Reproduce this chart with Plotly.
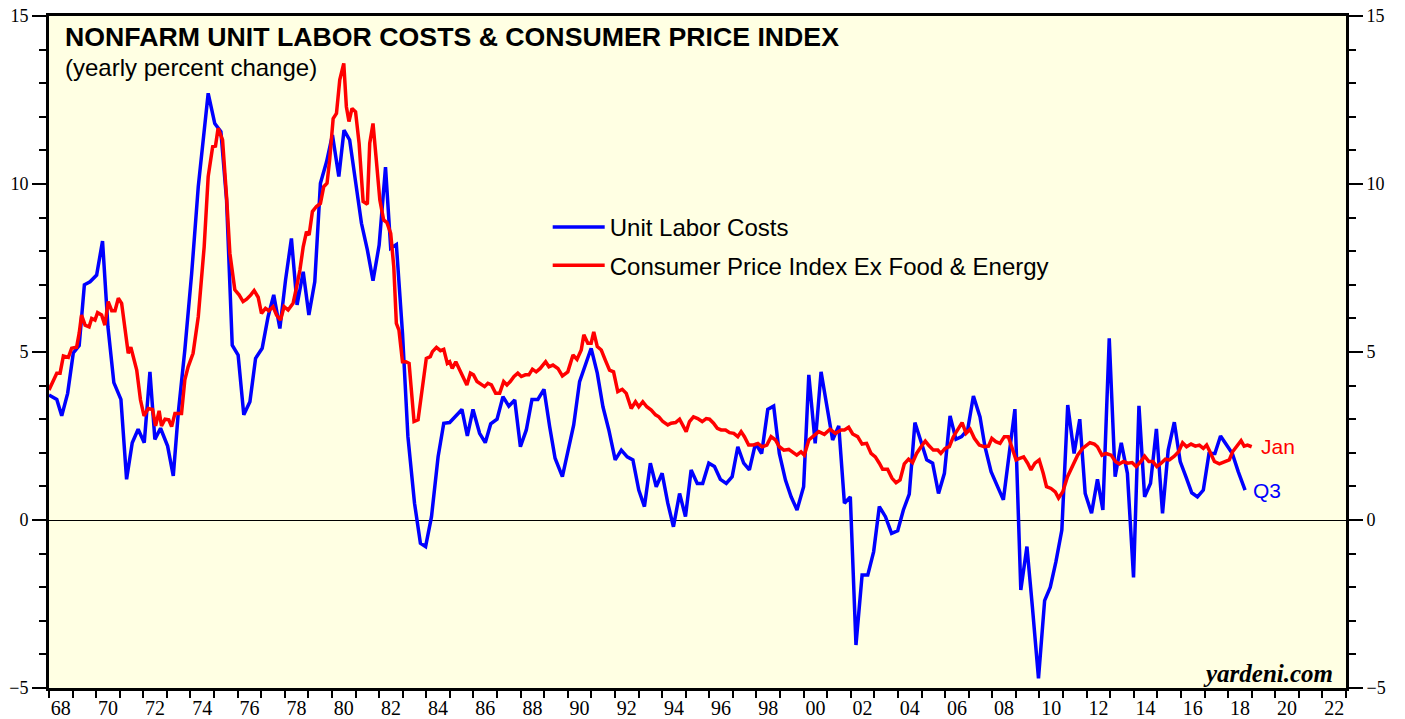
import plotly.graph_objects as go

# ---------------- data ----------------
ulc_years = [1968.0, 1968.33, 1968.54, 1968.79, 1969.03, 1969.28, 1969.5, 1969.74, 1970.02, 1970.27,
             1970.5, 1970.75, 1971.05, 1971.29, 1971.53, 1971.78, 1972.04, 1972.28, 1972.49, 1972.73,
             1973.03, 1973.27, 1973.48, 1973.76, 1974.05, 1974.33, 1974.75, 1975.03, 1975.29, 1975.53,
             1975.77, 1976.02, 1976.26, 1976.52, 1976.76, 1977.04, 1977.29, 1977.53, 1977.79, 1978.03,
             1978.28, 1978.52, 1978.78, 1979.02, 1979.27, 1979.51, 1979.77, 1980.02, 1980.29, 1980.51,
             1980.75, 1981.0, 1981.25, 1981.5, 1981.74, 1982.0, 1982.27, 1982.49, 1982.73, 1982.99,
             1983.22, 1983.5, 1983.75, 1983.97, 1984.22, 1984.5, 1984.74, 1984.99, 1985.25, 1985.51,
             1985.74, 1985.98, 1986.26, 1986.5, 1986.73, 1987.0, 1987.25, 1987.5, 1987.75, 1987.99,
             1988.24, 1988.48, 1988.73, 1988.99, 1989.23, 1989.46, 1989.77, 1990.0, 1990.25, 1990.5,
             1990.75, 1990.99, 1991.25, 1991.49, 1991.74, 1992.01, 1992.27, 1992.52, 1992.76, 1993.01,
             1993.25, 1993.5, 1993.75, 1994.0, 1994.24, 1994.48, 1994.74, 1994.99, 1995.23, 1995.49,
             1995.72, 1995.98, 1996.22, 1996.47, 1996.72, 1996.97, 1997.21, 1997.46, 1997.7, 1997.96,
             1998.22, 1998.48, 1998.73, 1998.97, 1999.23, 1999.47, 1999.72, 2000.0, 2000.22, 2000.49,
             2000.74, 2000.98, 2001.23, 2001.49, 2001.73, 2001.98, 2002.22, 2002.48, 2002.72, 2002.97,
             2003.21, 2003.47, 2003.73, 2003.99, 2004.23, 2004.48, 2004.72, 2004.98, 2005.22, 2005.47,
             2005.72, 2005.97, 2006.21, 2006.46, 2006.7, 2006.96, 2007.2, 2007.48, 2007.69, 2007.95,
             2008.2, 2008.47, 2008.72, 2008.96, 2009.21, 2009.47, 2009.7, 2009.96, 2010.22, 2010.46,
             2010.7, 2010.95, 2011.2, 2011.47, 2011.71, 2011.94, 2012.21, 2012.46, 2012.69, 2012.96,
             2013.21, 2013.47, 2013.73, 2013.99, 2014.22, 2014.46, 2014.71, 2014.96, 2015.22, 2015.46,
             2015.72, 2015.97, 2016.21, 2016.46, 2016.7, 2016.95, 2017.19, 2017.44, 2017.68, 2017.94,
             2018.18, 2018.43, 2018.72]
ulc_values = [3.72, 3.59, 3.10, 3.77, 4.97, 5.19, 7.0, 7.09, 7.29, 8.3,
              5.75, 4.09, 3.59, 1.21, 2.3, 2.7, 2.3, 4.41, 2.4, 2.73,
              2.2, 1.31, 3.17, 5.06, 7.34, 9.92, 12.7, 11.8, 11.56, 9.52,
              5.2, 4.91, 3.13, 3.52, 4.81, 5.11, 6.05, 6.7, 5.7, 7.14,
              8.38, 6.4, 7.39, 6.1, 7.09, 10.02, 10.66, 11.46, 10.22, 11.6,
              11.31, 10.12, 8.83, 8.04, 7.12, 8.18, 10.5, 8.09, 8.2, 5.56,
              2.48, 0.5, -0.69, -0.79, 0.1, 1.88, 2.88, 2.9, 3.1, 3.29,
              2.5, 3.29, 2.58, 2.3, 2.86, 3.0, 3.67, 3.39, 3.57, 2.18,
              2.68, 3.59, 3.59, 3.89, 2.78, 1.84, 1.29, 2.08, 2.83, 4.12,
              4.61, 5.11, 4.37, 3.37, 2.68, 1.79, 2.08, 1.88, 1.79, 0.89,
              0.4, 1.69, 0.99, 1.39, 0.5, -0.2, 0.79, 0.1, 1.49, 1.09,
              1.09, 1.69, 1.59, 1.21, 1.09, 1.29, 2.18, 1.69, 1.49, 2.28,
              1.98, 3.29, 3.39, 1.98, 1.19, 0.69, 0.3, 0.99, 4.32, 2.28,
              4.41, 3.37, 2.38, 2.8, 0.5, 0.69, -3.72, -1.64, -1.64, -0.94,
              0.4, 0.1, -0.4, -0.32, 0.3, 0.77, 2.9, 2.33, 1.79, 1.69,
              0.79, 1.39, 3.1, 2.4, 2.48, 2.7, 3.69, 3.07, 2.18, 1.44,
              1.02, 0.6, 1.98, 3.3, -2.08, -0.79, -2.58, -4.71, -2.4, -2.0,
              -1.24, -0.3, 3.42, 1.98, 3.0, 0.79, 0.2, 1.21, 0.3, 5.41,
              1.29, 2.3, 1.39, -1.71, 3.4, 0.69, 1.09, 2.71, 0.2, 2.08,
              2.91, 1.74, 1.29, 0.81, 0.69, 0.89, 1.98, 1.98, 2.5, 2.23,
              1.98, 1.44, 0.89]

cpi_years = [1968.0, 1968.18, 1968.33, 1968.47, 1968.61, 1968.82, 1968.96, 1969.17, 1969.28, 1969.38,
             1969.53, 1969.7, 1969.81, 1969.95, 1970.06, 1970.23, 1970.37, 1970.51, 1970.66, 1970.8,
             1970.94, 1971.08, 1971.22, 1971.36, 1971.47, 1971.57, 1971.72, 1971.88, 1972.03, 1972.21,
             1972.39, 1972.52, 1972.67, 1972.77, 1972.92, 1973.08, 1973.2, 1973.34, 1973.62, 1973.76,
             1973.9, 1974.11, 1974.33, 1974.58, 1974.75, 1974.94, 1975.06, 1975.17, 1975.36, 1975.53,
             1975.67, 1975.88, 1976.06, 1976.23, 1976.38, 1976.56, 1976.7, 1976.87, 1977.01, 1977.18,
             1977.32, 1977.5, 1977.65, 1977.82, 1977.97, 1978.14, 1978.35, 1978.5, 1978.64, 1978.78,
             1978.92, 1979.03, 1979.17, 1979.34, 1979.51, 1979.65, 1979.79, 1979.9, 1980.05, 1980.19,
             1980.33, 1980.5, 1980.61, 1980.72, 1980.85, 1981.0, 1981.15, 1981.32, 1981.5, 1981.6,
             1981.74, 1981.88, 1982.03, 1982.19, 1982.33, 1982.49, 1982.62, 1982.73, 1982.84, 1982.99,
             1983.13, 1983.27, 1983.48, 1983.65, 1983.79, 1984.0, 1984.17, 1984.26, 1984.43, 1984.6,
             1984.74, 1984.89, 1984.99, 1985.1, 1985.25, 1985.42, 1985.56, 1985.72, 1985.87, 1986.0,
             1986.15, 1986.33, 1986.47, 1986.61, 1986.76, 1986.94, 1987.11, 1987.28, 1987.42, 1987.56,
             1987.72, 1987.88, 1988.03, 1988.2, 1988.35, 1988.5, 1988.66, 1988.83, 1989.06, 1989.2,
             1989.37, 1989.58, 1989.77, 1990.0, 1990.22, 1990.39, 1990.57, 1990.68, 1990.85, 1990.99,
             1991.1, 1991.25, 1991.42, 1991.59, 1991.77, 1991.94, 1992.12, 1992.31, 1992.48, 1992.69,
             1992.87, 1993.01, 1993.18, 1993.35, 1993.54, 1993.72, 1993.86, 1994.03, 1994.24, 1994.38,
             1994.57, 1994.74, 1994.88, 1995.02, 1995.16, 1995.33, 1995.51, 1995.7, 1995.87, 1996.01,
             1996.18, 1996.34, 1996.5, 1996.69, 1996.86, 1997.04, 1997.21, 1997.35, 1997.49, 1997.67,
             1997.87, 1998.06, 1998.24, 1998.44, 1998.62, 1998.81, 1998.97, 1999.16, 1999.37, 1999.54,
             1999.71, 1999.89, 2000.03, 2000.22, 2000.46, 2000.64, 2000.88, 2001.12, 2001.35, 2001.59,
             2001.73, 2001.91, 2002.08, 2002.29, 2002.48, 2002.67, 2002.86, 2003.04, 2003.21, 2003.35,
             2003.56, 2003.75, 2003.92, 2004.09, 2004.27, 2004.45, 2004.62, 2004.79, 2004.98, 2005.16,
             2005.33, 2005.5, 2005.69, 2005.82, 2006.0, 2006.18, 2006.35, 2006.53, 2006.72, 2006.89,
             2007.06, 2007.24, 2007.45, 2007.66, 2007.84, 2007.98, 2008.15, 2008.33, 2008.51, 2008.68,
             2008.84, 2009.01, 2009.19, 2009.33, 2009.5, 2009.64, 2009.81, 2009.99, 2010.16, 2010.3,
             2010.49, 2010.67, 2010.81, 2010.99, 2011.19, 2011.41, 2011.62, 2011.83, 2012.0, 2012.14,
             2012.33, 2012.46, 2012.65, 2012.82, 2013.04, 2013.22, 2013.39, 2013.56, 2013.74, 2013.93,
             2014.1, 2014.3, 2014.46, 2014.64, 2014.81, 2014.98, 2015.16, 2015.34, 2015.51, 2015.72,
             2015.9, 2016.07, 2016.24, 2016.43, 2016.61, 2016.78, 2016.95, 2017.09, 2017.23, 2017.42,
             2017.63, 2017.84, 2018.05, 2018.19, 2018.36, 2018.55, 2018.68, 2018.82, 2019.0]
cpi_values = [3.87, 4.12, 4.37, 4.37, 4.88, 4.84, 5.11, 5.14, 5.56, 6.1,
              5.8, 5.75, 6.0, 5.95, 6.17, 6.1, 5.8, 6.5, 6.23, 6.23,
              6.6, 6.45, 5.75, 4.96, 5.14, 4.88, 4.46, 3.57, 3.1, 3.32,
              3.29, 2.8, 3.25, 2.8, 3.0, 2.98, 2.78, 3.17, 3.17, 4.17,
              4.56, 4.96, 6.05, 8.13, 10.22, 11.11, 11.13, 11.66, 11.31, 9.62,
              7.94, 6.85, 6.7, 6.5, 6.57, 6.7, 6.83, 6.63, 6.15, 6.3,
              6.23, 6.35, 6.1, 5.95, 6.35, 6.25, 6.45, 6.94, 7.44, 8.13,
              8.58, 8.48, 9.18, 9.33, 9.42, 9.92, 10.02, 10.71, 11.95, 12.1,
              13.1, 13.59, 12.3, 11.86, 12.25, 12.15, 11.21, 9.48, 9.4, 11.21,
              11.8, 10.71, 9.52, 8.93, 8.85, 8.53, 7.54, 5.85, 5.65, 4.71,
              4.71, 4.66, 2.93, 2.98, 3.67, 4.81, 4.86, 5.01, 5.14, 5.04,
              5.08, 4.66, 4.71, 4.51, 4.71, 4.46, 4.22, 4.02, 4.37, 4.32,
              4.12, 4.02, 3.97, 4.07, 4.02, 3.77, 3.77, 4.12, 4.02, 4.12,
              4.27, 4.37, 4.27, 4.32, 4.32, 4.49, 4.41, 4.51, 4.71, 4.56,
              4.61, 4.51, 4.29, 4.41, 4.91, 4.78, 5.06, 5.51, 5.26, 5.26,
              5.6, 5.16, 5.06, 4.76, 4.46, 4.41, 3.82, 3.89, 3.77, 3.32,
              3.52, 3.37, 3.52, 3.37, 3.27, 3.13, 3.07, 2.93, 2.83, 2.88,
              2.9, 3.0, 2.83, 2.63, 2.93, 3.07, 3.02, 2.93, 3.02, 3.0,
              2.88, 2.73, 2.68, 2.68, 2.6, 2.58, 2.48, 2.63, 2.48, 2.23,
              2.23, 2.28, 2.18, 2.23, 2.48, 2.38, 2.18, 2.08, 2.1, 2.03,
              1.93, 2.03, 1.93, 2.38, 2.53, 2.63, 2.55, 2.7, 2.58, 2.68,
              2.68, 2.76, 2.56, 2.48, 2.26, 2.28, 1.98, 1.88, 1.69, 1.51,
              1.51, 1.24, 1.11, 1.19, 1.67, 1.81, 1.71, 1.98, 2.18, 2.35,
              2.2, 2.08, 2.08, 1.98, 2.13, 2.18, 2.48, 2.68, 2.9, 2.58,
              2.7, 2.43, 2.23, 2.18, 2.2, 2.43, 2.33, 2.28, 2.48, 2.48,
              2.18, 1.79, 1.84, 1.88, 1.69, 1.49, 1.69, 1.79, 1.39, 0.99,
              0.94, 0.84, 0.65, 0.84, 1.29, 1.64, 1.93, 2.13, 2.23, 2.3,
              2.26, 2.18, 1.93, 1.98, 1.93, 1.74, 1.67, 1.74, 1.69, 1.71,
              1.59, 1.74, 1.9, 1.74, 1.74, 1.59, 1.69, 1.81, 1.79, 1.9,
              2.03, 2.3, 2.18, 2.26, 2.2, 2.23, 2.13, 2.23, 2.03, 1.74,
              1.67, 1.74, 1.79, 2.03, 2.2, 2.36, 2.2, 2.23, 2.18]

x_tick_years = list(range(1968, 2023, 2))
x_tick_labels = [str(y)[-2:] for y in x_tick_years]

ulc_name = "Unit Labor Costs"
cpi_name = "Consumer Price Index Ex Food & Energy"
title_text = "NONFARM UNIT LABOR COSTS & CONSUMER PRICE INDEX"
subtitle_text = "(yearly percent change)"

# ---------------- figure ----------------
SERIF = "Liberation Serif, Times New Roman, serif"
SANS = "Liberation Sans, Arial, sans-serif"

fig = go.Figure()
fig.add_trace(go.Scatter(x=ulc_years, y=ulc_values, mode="lines", name=ulc_name,
                         line=dict(color="#0000FF", width=3.5), legendgroup="ulc"))
fig.add_trace(go.Scatter(x=cpi_years, y=cpi_values, mode="lines", name=cpi_name,
                         line=dict(color="#FF0000", width=3.5), legendgroup="cpi", yaxis="y2"))

yaxis_common = dict(
    range=[-5, 15], tickmode="linear", tick0=0, dtick=5,
    ticks="outside", ticklen=14, tickwidth=2, tickcolor="black",
    minor=dict(ticks="outside", ticklen=7, tickwidth=2, tickcolor="black",
               tickmode="linear", tick0=0, dtick=1, showgrid=False),
    showline=True, linewidth=3, linecolor="black",
    showgrid=False, tickfont=dict(family=SERIF, size=18, color="black"),
    fixedrange=True, automargin=False,
)

fig.update_layout(
    width=1405, height=719,
    margin=dict(l=49, r=59, t=16, b=31, pad=0, autoexpand=False),
    paper_bgcolor="white", plot_bgcolor="#FFFFE3",
    showlegend=True,
    legend=dict(x=0.3845, y=0.719, xanchor="left", yanchor="top",
                bgcolor="rgba(0,0,0,0)", borderwidth=0,
                font=dict(family=SANS, size=24, color="black"),
                traceorder="grouped", tracegroupgap=4, itemwidth=52),
    xaxis=dict(
        range=[1968, 2023], tickmode="array",
        tickvals=[y + 0.5 for y in x_tick_years], ticktext=x_tick_labels,
        ticks="", showgrid=False, zeroline=False,
        minor=dict(ticks="outside", ticklen=7, tickwidth=2, tickcolor="black",
                   tickmode="linear", tick0=1968, dtick=1, showgrid=False),
        showline=True, linewidth=3, linecolor="black", mirror=True,
        tickfont=dict(family=SERIF, size=20, color="black"),
        fixedrange=True, automargin=False,
    ),
    yaxis=dict(**yaxis_common, side="left", zeroline=True, zerolinecolor="black", zerolinewidth=1),
    yaxis2=dict(**yaxis_common, side="right", overlaying="y", zeroline=False),
    annotations=[
        dict(text="<b>" + title_text + "</b>", xref="paper", yref="paper",
             x=0.011, y=0.969, xanchor="left", yanchor="middle", showarrow=False,
             font=dict(family=SANS, size=26.7, color="black")),
        dict(text=subtitle_text, xref="paper", yref="paper",
             x=0.011, y=0.924, xanchor="left", yanchor="middle", showarrow=False,
             font=dict(family=SANS, size=24, color="black")),
        dict(text="<b><i>yardeni.com</i></b>", xref="paper", yref="paper",
             x=0.9915, y=0.022, xanchor="right", yanchor="middle", showarrow=False,
             font=dict(family=SERIF, size=25, color="black")),
        dict(text="Jan", xref="x", yref="y", x=cpi_years[-1] + 0.3, y=cpi_values[-1],
             xanchor="left", yanchor="middle", showarrow=False,
             font=dict(family=SANS, size=21, color="#FF0000")),
        dict(text="Q3", xref="x", yref="y", x=ulc_years[-1] + 0.25, y=ulc_values[-1],
             xanchor="left", yanchor="middle", showarrow=False,
             font=dict(family=SANS, size=21, color="#0000FF")),
    ],
)

fig.write_html("out.html", config={"displayModeBar": False},
               post_script="document.body.style.margin='0';document.body.style.overflow='hidden';")
